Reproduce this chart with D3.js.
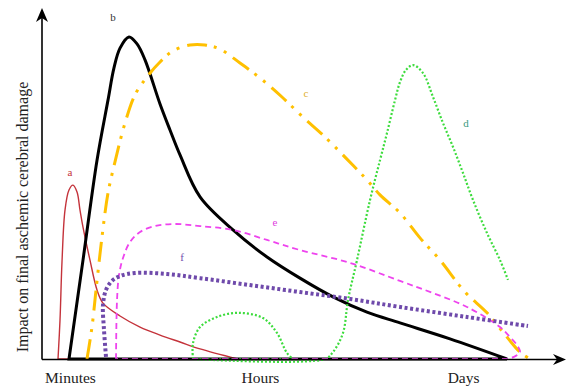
<!DOCTYPE html>
<html lang="en">
<head>
    <meta charset="UTF-8">
    <title>Impact on final ischemic cerebral damage</title>
    <style>
        * {
            margin:0;
            border:0;
            box-sizing:border-box;
        }
        body {
            background:#fff;
        }
        #chart svg {
            display:block;
        }
    </style>
    <script src="https://unpkg.com/d3@7.6.1/dist/d3.min.js"></script>
    <script>
        // time (0-100, arbitrary) / impact (0-100)
        const curveA=[[3.05,0],[3.43,11.2],[3.81,28.0],[4.38,42.9],[5.14,48.7],[5.90,50.1],[6.67,48.1],[7.24,42.9],[7.81,38.0],[9.14,28.5],[10.48,19.9],[11.62,16.1],[14.86,12.4],[18.67,9.2],[22.48,6.9],[26.29,4.9],[30.1,2.9],[37.3,0]];
        const curveB=[[5.14,0],[7.81,28.5],[10.48,57.3],[12.57,74.6],[13.71,83.9],[14.86,89.6],[16.57,92.8],[18.10,90.8],[19.62,86.2],[22.48,73.5],[24.38,66.0],[26.29,58.8],[30.10,46.7],[36.38,37.2],[42.86,29.4],[49.14,23.3],[55.43,17.9],[61.90,13.5],[68.19,10.4],[77.71,5.8],[88.57,0]];
        const curveC=[[8.57,0],[9.52,9.2],[10.29,19.9],[11.43,35.2],[12.57,47.8],[13.90,56.8],[15.81,68.0],[17.71,76.1],[20.00,81.3],[22.48,85.6],[24.95,88.8],[28.19,90.5],[31.05,90.5],[33.90,89.3],[37.71,85.3],[41.52,81.0],[45.71,75.5],[49.71,69.7],[53.90,64.0],[57.90,57.9],[61.90,51.6],[64.38,47.3],[68.19,42.1],[72.0,34.9],[75.81,28.5],[80.57,19.3],[84.76,13.3],[88.57,6.3],[91.05,2.0],[92.95,0]];
        const curveD1=[[28.76,0],[28.76,4.6],[30.10,9.2],[33.33,12.1],[37.33,13.3],[42.10,11.8],[44.76,7.5],[46.67,1.7],[47.81,0]];
        const curveD2=[[28.76,0],[53.90,0],[55.43,2.0],[57.33,7.5],[58.29,17.0],[60.0,28.5],[62.48,45.8],[64.38,57.3],[65.71,65.1],[67.24,74.6],[68.19,79.8],[69.33,83.3],[70.67,84.7],[72.57,82.4],[74.48,75.5],[76.38,68.0],[78.29,61.1],[80.19,53.6],[82.10,45.8],[84.76,36.3],[87.24,28.5],[88.76,22.8]];
        const curveE=[[14.10,0],[14.29,17.0],[14.67,24.2],[15.43,29.1],[16.76,33.7],[18.67,36.6],[21.52,38.3],[25.33,38.9],[30.10,38.3],[36.38,37.2],[42.86,34.3],[49.14,31.4],[58.67,27.7],[68.19,22.5],[74.48,19.0],[80.95,15.0],[87.24,9.2],[89.14,6.3],[90.48,4.0],[91.05,2.0],[89.90,0.6],[88.19,0]];
        const curveF=[[12.19,0.6],[11.81,8.4],[11.62,15.6],[12.19,19.9],[13.33,22.5],[14.86,23.9],[17.71,24.8],[23.81,24.5],[30.10,23.3],[39.62,21.3],[49.14,19.3],[58.67,17.3],[68.19,15.0],[80.95,12.1],[92.57,9.5]];

        const xTicks=["Minutes","Hours","Days"];
        const xTickPos=[5.33,41.5,80.2];

        const labelNames=["a","b","c","d","e","f"];
        const labelT=[5.33,13.52,50.29,80.76,44.38,26.67];
        const labelV=[53.9,98.6,76.7,68.0,39.5,29.4];
    </script>
</head>
<body>
    <div id="chart"></div>
    <script>
        const width=567;
        const height=388;
        const serif='"Liberation Serif", "Times New Roman", serif';

        const xScale=d3.scaleLinear([0,100],[42,567]);
        const yScale=d3.scaleLinear([0,100],[359,12]);

        const series=[
            {data:curveA,color:"#c4333b",width:1.4,dash:null,closed:true},
            {data:curveB,color:"#000",width:3,dash:null,closed:true},
            {data:curveC,color:"#ffc000",width:3,dash:"20,7,3,8,3,8",closed:false},
            {data:curveD1,color:"#3ddc3d",width:2.2,dash:"2,2",closed:true},
            {data:curveD2,color:"#3ddc3d",width:2.2,dash:"2,2",closed:false},
            {data:curveE,color:"#ee44ee",width:1.8,dash:"6,4",closed:true},
            {data:curveF,color:"#6f4aab",width:4,dash:"3,2.6",closed:false}
        ];
        const labelColors=["#c4333b","#333","#e0b030","#3a9a80","#e040e0","#6f4aab"];

        const line=d3.line()
            .x(d=>xScale(d[0]))
            .y(d=>yScale(d[1]))
            .curve(d3.curveCatmullRom.alpha(0.5));

        const svg=d3.select("#chart").append("svg")
            .attr("width",width)
            .attr("height",height);

        svg.append("g")
            .attr("fill","none")
            .selectAll("path")
            .data(series)
            .join("path")
              .attr("d",d=>line(d.data)+(d.closed?"Z":""))
              .attr("stroke",d=>d.color)
              .attr("stroke-width",d=>d.width)
              .attr("stroke-dasharray",d=>d.dash);

        // axes with arrow heads
        const x0=xScale(0), y0=yScale(0)+0.5;
        const axes=svg.append("g").attr("stroke","#000").attr("stroke-width",1.6);
        axes.append("line").attr("x1",x0).attr("y1",y0).attr("x2",x0).attr("y2",14);
        axes.append("line").attr("x1",x0).attr("y1",y0).attr("x2",width-6).attr("y2",y0);
        svg.append("path")
            .attr("d",`M${x0},8L${x0+6},22L${x0},18L${x0-6},22Z`)
            .attr("fill","#000");
        svg.append("path")
            .attr("d",`M${width-1},${y0}L${width-14},${y0-5.5}L${width-10},${y0}L${width-14},${y0+5.5}Z`)
            .attr("fill","#000");

        const xAxis=d3.axisBottom(xScale)
            .tickValues(xTickPos)
            .tickFormat((d,i)=>xTicks[i])
            .tickSize(0)
            .tickPadding(13);
        svg.append("g")
            .attr("transform",`translate(0,${yScale(0)})`)
            .call(xAxis)
            .call(g=>g.select(".domain").remove())
            .call(g=>g.selectAll("text")
                .style("font-family",serif)
                .style("font-size","15.5px")
                .attr("fill","#222"));

        svg.append("text")
            .attr("transform","translate(28,217) rotate(-90)")
            .attr("text-anchor","middle")
            .style("font-family",serif)
            .style("font-size","16px")
            .attr("fill","#222")
            .text("Impact on final aschemic cerebral damage");

        svg.append("g")
            .attr("text-anchor","middle")
            .attr("dominant-baseline","central")
            .selectAll("text")
            .data(labelNames)
            .join("text")
              .style("font-family",serif)
              .style("font-size","11px")
              .attr("x",(d,i)=>xScale(labelT[i]))
              .attr("y",(d,i)=>yScale(labelV[i]))
              .attr("fill",(d,i)=>labelColors[i])
              .text(d=>d);
    </script>
</body>
</html>
